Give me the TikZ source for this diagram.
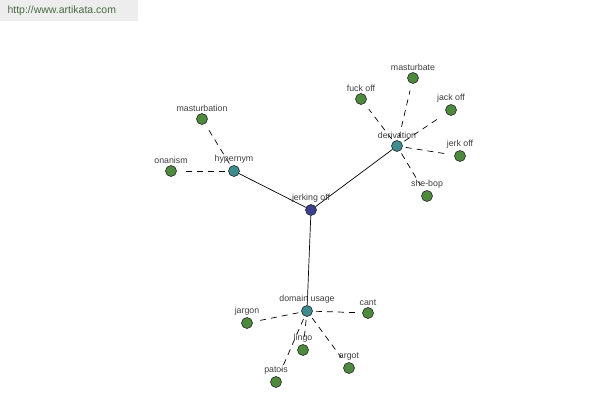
\documentclass[tikz,border=0pt]{standalone}
\usepackage{fontspec}
\setmainfont{Liberation Sans}
\begin{document}
\begin{tikzpicture}[x=1pt,y=-1pt,
  every node/.style={font=\fontsize{8.8}{10}\selectfont, text=black!75},
  dot/.style={circle, draw=black!85, line width=0.6pt, minimum size=11pt, inner sep=0pt},
  leaf/.style={dot, fill=leafc},
  mid/.style={dot, fill=midc},
  root/.style={dot, fill=rootc},
  lab/.style={above=1.5pt, inner sep=0pt},
  solidlink/.style={draw=black, line width=0.7pt},
  dashlink/.style={draw=black, line width=0.7pt, dash pattern=on 6pt off 5pt, shorten <=3pt, shorten >=7pt}]
\definecolor{leafc}{HTML}{4E8A3E}
\definecolor{midc}{HTML}{3E8C8E}
\definecolor{rootc}{HTML}{3C3F8E}
\definecolor{hdr}{HTML}{EDEDED}
\definecolor{hdrtext}{HTML}{4A6A44}
\useasboundingbox (0,0) rectangle (600,400);
\fill[white] (0,0) rectangle (600,400);
\fill[hdr] (0,0) rectangle (138,21);
\node[anchor=west, text=hdrtext, font=\fontsize{10.5}{12}\selectfont] (url) at (4,11) {http://www.artikata.com};

\node[root] (jo) at (311,210) {};
\node[mid] (hy) at (234,171) {};
\node[mid] (de) at (397,146) {};
\node[mid] (du) at (307,311) {};

\node[leaf] (mtn) at (202,119) {};
\node[leaf] (ona) at (171,171) {};
\node[leaf] (mte) at (413,78) {};
\node[leaf] (fo) at (361,99) {};
\node[leaf] (jak) at (451,110) {};
\node[leaf] (jer) at (460,156) {};
\node[leaf] (sb) at (427,196) {};
\node[leaf] (jar) at (247,323) {};
\node[leaf] (cant) at (368,313) {};
\node[leaf] (lin) at (303,350) {};
\node[leaf] (arg) at (349,368) {};
\node[leaf] (pat) at (276,382) {};

\draw[solidlink] (jo) -- (hy);
\draw[solidlink] (jo) -- (de);
\draw[solidlink] (jo) -- (du);

\draw[dashlink] (hy) -- (mtn);
\draw[dashlink] (hy) -- (ona);
\draw[dashlink] (de) -- (mte);
\draw[dashlink] (de) -- (fo);
\draw[dashlink] (de) -- (jak);
\draw[dashlink] (de) -- (jer);
\draw[dashlink] (de) -- (sb);
\draw[dashlink] (du) -- (jar);
\draw[dashlink] (du) -- (cant);
\draw[dashlink] (du) -- (lin);
\draw[dashlink] (du) -- (arg);
\draw[dashlink] (du) -- (pat);

\node[lab] (ljo) at (jo.north) {jerking off};
\node[lab] (lhy) at (hy.north) {hypernym};
\node[lab] (lde) at (de.north) {derivation};
\node[lab] (ldu) at (du.north) {domain usage};
\node[lab] (lmtn) at (mtn.north) {masturbation};
\node[lab] (lona) at (ona.north) {onanism};
\node[lab] (lmte) at (mte.north) {masturbate};
\node[lab] (lfo) at (fo.north) {fuck off};
\node[lab] (ljak) at (jak.north) {jack off};
\node[lab] (ljer) at (jer.north) {jerk off};
\node[lab] (lsb) at (sb.north) {she-bop};
\node[lab] (ljar) at (jar.north) {jargon};
\node[lab] (lcant) at (cant.north) {cant};
\node[lab] (llin) at (lin.north) {lingo};
\node[lab] (larg) at (arg.north) {argot};
\node[lab] (lpat) at (pat.north) {patois};
\end{tikzpicture}
\end{document}
